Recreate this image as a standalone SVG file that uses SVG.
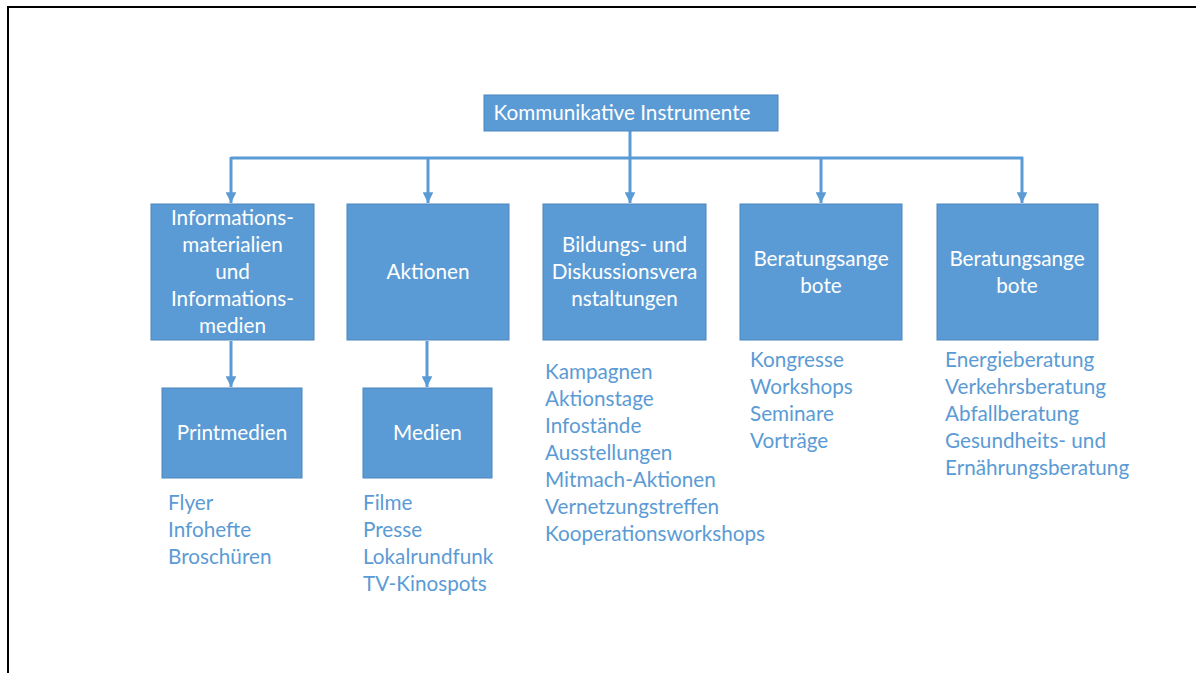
<svg xmlns="http://www.w3.org/2000/svg" width="1196" height="673" viewBox="0 0 1196 673">
  <defs>
    <marker id="arrow" viewBox="0 0 10 10" refX="10" refY="5" markerWidth="3.6" markerHeight="3.6" markerUnits="strokeWidth" orient="auto">
      <path d="M0,0 L10,5 L0,10 Z" fill="#5B9BD5"/>
    </marker>
    <style>
      .box { fill: #5B9BD5; stroke: #4A86BE; stroke-width: 1; }
      .bt { font-family: Lato, "Liberation Sans", sans-serif; font-size: 20.7px; fill: #FFFFFF; text-anchor: middle; }
      .lt { font-family: Lato, "Liberation Sans", sans-serif; font-size: 20.7px; fill: #5B9BD5; }
      .con { fill: none; stroke: #5B9BD5; stroke-width: 3; }
      .arr { fill: none; stroke: #5B9BD5; stroke-width: 3; marker-end: url(#arrow); }
    </style>
  </defs>

  <rect width="1196" height="673" fill="#FFFFFF"/>
  <!-- slide frame -->
  <path d="M8,673 L8,7 L1196,7" fill="none" stroke="#000000" stroke-width="2"/>

  <!-- connectors -->
  <g id="connectors">
    <path class="con" d="M231,158 L1023,158"/>
    <path class="arr" d="M630,131 L630,203"/>
    <path class="arr" d="M231,157 L231,203"/>
    <path class="arr" d="M428,158 L428,203"/>
    <path class="arr" d="M821,158 L821,203"/>
    <path class="arr" d="M1022,157 L1022,203"/>
    <path class="arr" d="M231,341 L231,387"/>
    <path class="arr" d="M427,341 L427,387"/>
  </g>

  <g id="root">
    <rect class="box" x="484" y="95" width="294" height="36"/>
    <text class="bt" x="622" y="119.5">Kommunikative Instrumente</text>
  </g>

  <g id="informationsmaterialien">
    <rect class="box" x="151" y="204" width="163" height="136"/>
    <text class="bt" x="232.5" y="224.5">Informations-</text>
    <text class="bt" x="232.5" y="251.5">materialien</text>
    <text class="bt" x="232.5" y="278.5">und</text>
    <text class="bt" x="232.5" y="305.5">Informations-</text>
    <text class="bt" x="232.5" y="332.5">medien</text>
  </g>

  <g id="aktionen">
    <rect class="box" x="347" y="204" width="162" height="136"/>
    <text class="bt" x="428" y="278.5">Aktionen</text>
  </g>

  <g id="bildung">
    <rect class="box" x="543" y="204" width="163" height="136"/>
    <text class="bt" x="624.5" y="251.5">Bildungs- und</text>
    <text class="bt" x="624.5" y="278.5">Diskussionsvera</text>
    <text class="bt" x="624.5" y="305.5">nstaltungen</text>
  </g>

  <g id="beratung1">
    <rect class="box" x="740" y="204" width="162" height="136"/>
    <text class="bt" x="821" y="265.5">Beratungsange</text>
    <text class="bt" x="821" y="292.5">bote</text>
  </g>

  <g id="beratung2">
    <rect class="box" x="937" y="204" width="161" height="136"/>
    <text class="bt" x="1017" y="265.5">Beratungsange</text>
    <text class="bt" x="1017" y="292.5">bote</text>
  </g>

  <g id="printmedien">
    <rect class="box" x="162" y="388" width="140" height="90"/>
    <text class="bt" x="232" y="439.5">Printmedien</text>
  </g>

  <g id="medien">
    <rect class="box" x="363" y="388" width="129" height="90"/>
    <text class="bt" x="427.5" y="439.5">Medien</text>
  </g>

  <g id="list-printmedien">
    <text class="lt" x="168" y="509.5">Flyer</text>
    <text class="lt" x="168" y="536.5">Infohefte</text>
    <text class="lt" x="168" y="563.5">Broschüren</text>
  </g>

  <g id="list-medien">
    <text class="lt" x="363" y="509.5">Filme</text>
    <text class="lt" x="363" y="536.5">Presse</text>
    <text class="lt" x="363" y="563.5">Lokalrundfunk</text>
    <text class="lt" x="363" y="590.5">TV-Kinospots</text>
  </g>

  <g id="list-bildung">
    <text class="lt" x="545" y="378.5">Kampagnen</text>
    <text class="lt" x="545" y="405.5">Aktionstage</text>
    <text class="lt" x="545" y="432.5">Infostände</text>
    <text class="lt" x="545" y="459.5">Ausstellungen</text>
    <text class="lt" x="545" y="486.5">Mitmach-Aktionen</text>
    <text class="lt" x="545" y="513.5">Vernetzungstreffen</text>
    <text class="lt" x="545" y="540.5">Kooperationsworkshops</text>
  </g>

  <g id="list-beratung1">
    <text class="lt" x="750" y="366.5">Kongresse</text>
    <text class="lt" x="750" y="393.5">Workshops</text>
    <text class="lt" x="750" y="420.5">Seminare</text>
    <text class="lt" x="750" y="447.5">Vorträge</text>
  </g>

  <g id="list-beratung2">
    <text class="lt" x="945" y="366.5">Energieberatung</text>
    <text class="lt" x="945" y="393.5">Verkehrsberatung</text>
    <text class="lt" x="945" y="420.5">Abfallberatung</text>
    <text class="lt" x="945" y="447.5">Gesundheits- und</text>
    <text class="lt" x="945" y="474.5">Ernährungsberatung</text>
  </g>
</svg>
